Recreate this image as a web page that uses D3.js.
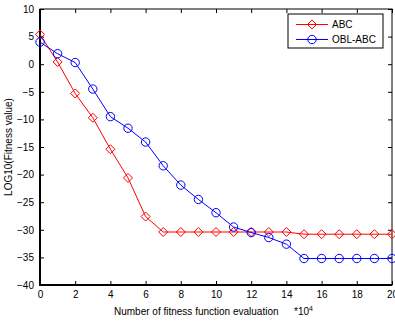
<!DOCTYPE html>
<html>
<head>
<meta charset="utf-8">
<script src="https://cdn.jsdelivr.net/npm/d3@7"></script>
<style>
  html, body { margin: 0; padding: 0; background: #fff; }
  svg { display: block; font-family: "Liberation Sans", Arial, sans-serif; }
</style>
</head>
<body>
<svg id="chart" width="395" height="322"></svg>
<script>
// Evaluations (in units of 10^4)
const evaluations = [0,1,2,3,4,5,6,7,8,9,10,11,12,13,14,15,16,17,18,19,20];
// log10 of best fitness value per algorithm
const abcValues = [5.4,0.4,-5.3,-9.7,-15.4,-20.6,-27.6,-30.4,-30.4,-30.4,-30.4,-30.4,-30.4,-30.4,-30.4,-30.8,-30.8,-30.8,-30.8,-30.8,-30.8];
const oblAbcValues = [4.0,1.9,0.3,-4.5,-9.5,-11.6,-14.1,-18.4,-21.9,-24.5,-26.9,-29.5,-30.5,-31.4,-32.6,-35.2,-35.2,-35.2,-35.2,-35.2,-35.2];
const xTicks = [0,2,4,6,8,10,12,14,16,18,20];
const yTicks = [10,5,0,-5,-10,-15,-20,-25,-30,-35,-40];
const seriesNames = ["ABC", "OBL-ABC"];
const seriesColors = ["#ff0000", "#0000ff"];

const plotLeft = 40, plotRight = 392, plotTop = 9, plotBottom = 285;
const svg = d3.select("#chart");

const x = d3.scaleLinear().domain([0, 20]).range([plotLeft, plotRight]);
const y = d3.scaleLinear().domain([-40, 10]).range([plotBottom, plotTop]);

const tickLen = 4;
const fontSize = 10;

// Axes with inward ticks on all four sides
const axisBottom = d3.axisBottom(x).tickValues(xTicks).tickSize(-tickLen).tickPadding(6).tickFormat(d3.format("d"));
const axisTop = d3.axisTop(x).tickValues(xTicks).tickSize(-tickLen).tickFormat("");
const axisLeft = d3.axisLeft(y).tickValues(yTicks).tickSize(-tickLen).tickPadding(6).tickFormat(d3.format("d"));
const axisRight = d3.axisRight(y).tickValues(yTicks).tickSize(-tickLen).tickFormat("");

function styleAxis(g) {
  g.select(".domain").remove();
  g.selectAll(".tick line").attr("stroke", "#000").attr("stroke-width", 1);
  g.selectAll(".tick text").attr("fill", "#000").attr("font-size", fontSize)
    .attr("font-family", "Liberation Sans, Arial, sans-serif");
}

svg.append("g").attr("transform", `translate(0,${plotBottom})`).call(axisBottom).call(styleAxis);
svg.append("g").attr("transform", `translate(0,${plotTop})`).call(axisTop).call(styleAxis);
svg.append("g").attr("transform", `translate(${plotLeft},0)`).call(axisLeft).call(styleAxis);
svg.append("g").attr("transform", `translate(${plotRight},0)`).call(axisRight).call(styleAxis);

// Box frame: thin top/right, heavier left/bottom axis lines
svg.append("rect")
  .attr("x", plotLeft).attr("y", plotTop)
  .attr("width", plotRight - plotLeft).attr("height", plotBottom - plotTop)
  .attr("fill", "none").attr("stroke", "#000").attr("stroke-width", 1);
svg.append("path")
  .attr("d", `M${plotLeft},${plotTop}V${plotBottom}H${plotRight}`)
  .attr("fill", "none").attr("stroke", "#000").attr("stroke-width", 2);

// Series
const allSeries = [abcValues, oblAbcValues];
const line = d3.line().x((d, i) => x(evaluations[i])).y(d => y(d));

function drawMarker(g, kind, color) {
  if (kind === 0) {
    g.append("path")
      .attr("d", "M0,-4.5L4.5,0L0,4.5L-4.5,0Z")
      .attr("fill", "none").attr("stroke", color).attr("stroke-width", 1);
  } else {
    g.append("circle").attr("r", 4.2)
      .attr("fill", "none").attr("stroke", color).attr("stroke-width", 1);
  }
}

allSeries.forEach((vals, k) => {
  svg.append("path").datum(vals)
    .attr("d", line)
    .attr("fill", "none")
    .attr("stroke", seriesColors[k])
    .attr("stroke-width", 1);
  vals.forEach((v, i) => {
    const g = svg.append("g").attr("transform", `translate(${x(evaluations[i])},${y(v)})`);
    drawMarker(g, k, seriesColors[k]);
  });
});

// Axis labels
svg.append("text")
  .attr("x", 114).attr("y", 315)
  .attr("font-size", fontSize).attr("fill", "#000")
  .text("Number of fitness function evaluation");

const expLabel = svg.append("text")
  .attr("x", 294).attr("y", 315)
  .attr("font-size", fontSize).attr("fill", "#000");
expLabel.append("tspan").text("*10");
expLabel.append("tspan").attr("dy", -4).attr("font-size", 7).text("4");

svg.append("text")
  .attr("transform", `translate(12,${(plotTop + plotBottom) / 2}) rotate(-90)`)
  .attr("text-anchor", "middle")
  .attr("font-size", fontSize).attr("fill", "#000")
  .text("LOG10(Fitness value)");

// Legend
const lg = svg.append("g").attr("transform", "translate(288,14)");
lg.append("rect").attr("width", 95).attr("height", 34)
  .attr("fill", "#fff").attr("stroke", "#000").attr("stroke-width", 1);
seriesNames.forEach((name, k) => {
  const cy = 10.5 + k * 15;
  lg.append("line").attr("x1", 8).attr("x2", 40).attr("y1", cy).attr("y2", cy)
    .attr("stroke", seriesColors[k]).attr("stroke-width", 1);
  const m = lg.append("g").attr("transform", `translate(24,${cy})`);
  drawMarker(m, k, seriesColors[k]);
  lg.append("text").attr("x", 44).attr("y", cy + 3.6)
    .attr("font-size", fontSize).attr("fill", "#000").text(name);
});
</script>
</body>
</html>
